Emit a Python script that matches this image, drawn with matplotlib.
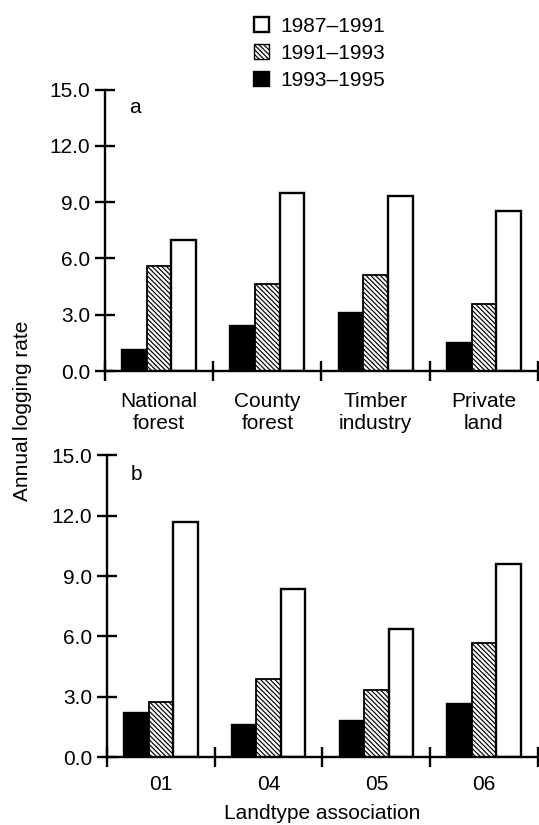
import matplotlib
matplotlib.use("Agg")
import matplotlib.pyplot as plt
from matplotlib.patches import Patch
import numpy as np

plt.rcParams['font.family'] = ['Liberation Sans', 'DejaVu Sans']
plt.rcParams['hatch.linewidth'] = 0.85

# данные
periods = ["1987\u20131991", "1991\u20131993", "1993\u20131995"]
owners = ["National\nforest", "County\nforest", "Timber\nindustry", "Private\nland"]
landtypes = ["01", "04", "05", "06"]

a_1993_1995 = [1.12, 2.41, 3.07, 1.51]
a_1991_1993 = [5.59, 4.63, 5.11, 3.55]
a_1987_1991 = [6.98, 9.47, 9.32, 8.52]

b_1993_1995 = [2.22, 1.60, 1.82, 2.65]
b_1991_1993 = [2.75, 3.90, 3.34, 5.66]
b_1987_1991 = [11.70, 8.35, 6.36, 9.60]

fs = 15
w = 0.228
lw = 1.7
hatch = '\\' * 7

fig = plt.figure(figsize=(5.39, 8.25), dpi=100)
ax_a = fig.add_axes([0.1948, 0.5503, 0.8033, 0.3412])
ax_b = fig.add_axes([0.1985, 0.0821, 0.7996, 0.3660])


def draw_panel(ax, black, hatched, white, cats, letter):
    x = np.arange(len(cats))
    ax.bar(x - w, black, w, color='black', edgecolor='black', linewidth=lw)
    ax.bar(x, hatched, w, color='white', edgecolor='black', linewidth=1.3,
           hatch=hatch)
    ax.bar(x + w, white, w, color='white', edgecolor='black', linewidth=lw)

    ax.set_xlim(-0.5, len(cats) - 0.5)
    ax.set_ylim(0, 15)
    ax.set_yticks(np.arange(0, 15.1, 3))
    ax.set_yticklabels([f"{v:.1f}" for v in np.arange(0, 15.1, 3)])
    # разделители групп как главные деления, подписи как малые
    ax.set_xticks(np.arange(-0.5, len(cats), 1.0))
    ax.set_xticklabels([])
    ax.set_xticks(x, minor=True)
    ax.set_xticklabels(cats, minor=True)
    ax.tick_params(axis='x', which='major', direction='inout', length=15, width=lw)
    ax.tick_params(axis='x', which='minor', length=0, pad=15, labelsize=fs)
    ax.tick_params(axis='y', direction='inout', length=15, width=lw, pad=3, labelsize=fs)

    for s in ['top', 'right']:
        ax.spines[s].set_visible(False)
    for s in ['left', 'bottom']:
        ax.spines[s].set_linewidth(lw)
    ax.patch.set_alpha(0)
    ax.text(0.055, 0.935, letter, transform=ax.transAxes, fontsize=fs,
            ha='left', va='center')


draw_panel(ax_a, a_1993_1995, a_1991_1993, a_1987_1991, owners, 'a')
draw_panel(ax_b, b_1993_1995, b_1991_1993, b_1987_1991, landtypes, 'b')
ax_b.tick_params(axis='x', which='minor', pad=13)
ax_b.set_xlabel("Landtype association", fontsize=fs, labelpad=7)

fig.text(0.042, 1 - 411 / 825, "Annual logging rate", rotation=90,
         fontsize=fs, ha='center', va='center')

handles = [
    Patch(facecolor='white', edgecolor='black', linewidth=lw),
    Patch(facecolor='white', edgecolor='black', linewidth=1.0, hatch=hatch),
    Patch(facecolor='black', edgecolor='black', linewidth=lw),
]
fig.legend(handles, periods, loc='upper left', bbox_to_anchor=(0.455, 0.99),
           frameon=False, fontsize=fs, handlelength=0.75, handleheight=0.7,
           handletextpad=0.55, labelspacing=0.4, borderaxespad=0)

fig.savefig("out.png", dpi=100)
